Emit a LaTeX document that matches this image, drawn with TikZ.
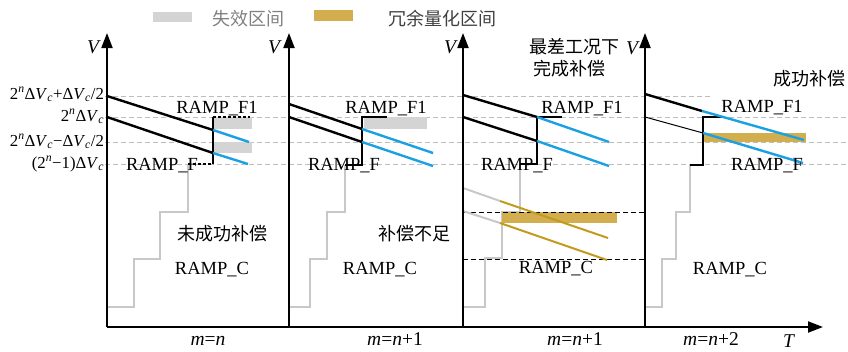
\documentclass[tikz,border=0pt]{standalone}
\usepackage{fontspec}
\setmainfont{Liberation Serif}
\newfontfamily\cjk{Noto Sans CJK SC}
\usetikzlibrary{arrows.meta}
\definecolor{bluec}{HTML}{1BA1E2}
\definecolor{goldl}{HTML}{C49A1C}
\definecolor{goldb}{HTML}{D2AE4E}
\definecolor{greyb}{HTML}{D4D4D4}
\definecolor{greys}{HTML}{C8C8C8}
\definecolor{greyd}{HTML}{BDBDBD}
\newcommand\mydv{Δ\textit{V}\textsubscript{\itshape c}}
\newcommand\mytn{2\textsuperscript{\itshape n}}
\tikzset{
  axisline/.style={line width=2pt,-{Triangle[length=15pt,width=11pt]}},
  ramp/.style={line width=2.4pt,black},
  thinramp/.style={line width=1pt,black},
  blueramp/.style={line width=2.4pt,bluec},
  greyramp/.style={line width=2pt,greys},
  goldramp/.style={line width=2pt,goldl},
  stepline/.style={line width=1.4pt,black},
  stair/.style={line width=1.4pt,greys},
  gdash/.style={greyd,line width=0.8pt,dash pattern=on 5pt off 3pt},
  kdash/.style={black,line width=0.9pt,dash pattern=on 5pt off 3pt},
  lbl/.style={font=\fontsize{18.5}{20}\selectfont,anchor=base},
  ylbl/.style={font=\fontsize{16.8}{18}\selectfont,anchor=base east},
  cn/.style={font=\fontsize{18}{20}\selectfont\cjk},
  mlbl/.style={font=\fontsize{19.5}{21}\selectfont,anchor=base},
}
\begin{document}
\begin{tikzpicture}[x=1pt,y=-1pt,every node/.style={inner sep=0pt,outer sep=0pt}]
\useasboundingbox (0,0) rectangle (848,351);

% legend
\fill[greyb] (153,12) rectangle (192,22);
\node[cn,anchor=west,text=black!50] (lg1) at (212,19) {失效区间};
\fill[goldb] (314,10) rectangle (353,21);
\node[cn,anchor=west,text=black!75] (lg2) at (388,19) {冗余量化区间};

% grey dashed reference lines
\draw[gdash] (105,96) -- (712,96);
\draw[gdash] (105,117) -- (848,117);
\draw[gdash] (105,142) -- (848,142);
\draw[gdash] (105,164) -- (848,164);

% y labels
\node[ylbl] (y1) at (104,99) {\mytn\mydv+\mydv/2};
\node[ylbl] (y2) at (104,121) {\mytn\mydv};
\node[ylbl] (y3) at (104,146) {\mytn\mydv−\mydv/2};
\node[ylbl] (y4) at (104,168) {(\mytn−1)\mydv};

% ---------- panel 1 ----------
\fill[greyb] (214,117) rectangle (252,129);
\fill[greyb] (214,142) rectangle (252,153);
\draw[stair] (188,164) -- (188,212) -- (160,212) -- (160,259) -- (134,259) -- (134,307) -- (107,307);
\draw[stepline] (213,117) -- (213,164);
\draw[stepline,dash pattern=on 3pt off 2pt] (213,117) -- (250,117);
\draw[stepline,dash pattern=on 3pt off 2pt] (188,164) -- (213,164);
\draw[ramp] (107,96) -- (213,130);
\draw[ramp] (107,117) -- (213,153);
\draw[blueramp] (213,130) -- (249,142);
\draw[blueramp] (213,153) -- (248,164);
\node[lbl] (f1a) at (217,113) {RAMP\_F1};
\node[lbl] (fa) at (162,170) {RAMP\_F};
\node[cn] (ta) at (222,234) {未成功补偿};
\node[lbl] (ca) at (212,274) {RAMP\_C};
\node[mlbl] (ma) at (208,345) {\textit{m}=\textit{n}};

% ---------- panel 2 ----------
\fill[greyb] (364,117) rectangle (427,129);
\draw[stair] (345,165) -- (345,212) -- (327,212) -- (327,259) -- (310,259) -- (310,307) -- (289,307);
\draw[stepline] (345,165) -- (362,165) -- (362,117) -- (387,117);
\draw[ramp] (289,104) -- (362,129);
\draw[ramp] (289,117) -- (362,142);
\draw[blueramp] (362,129) -- (433,153);
\draw[blueramp] (362,142) -- (433,166);
\node[lbl] (f1b) at (386,113) {RAMP\_F1};
\node[lbl] (fb) at (344,170) {RAMP\_F};
\node[cn] (tb) at (414,234) {补偿不足};
\node[lbl] (cb) at (380,274) {RAMP\_C};
\node[mlbl] (mb) at (395,345) {\textit{m}=\textit{n}+1};

% ---------- panel 3 ----------
\draw[stair] (520,164) -- (520,212) -- (502,212) -- (502,258) -- (485,258) -- (485,307) -- (463,307);
\fill[goldb] (502,212) rectangle (617,223);
\draw[kdash] (463,212) -- (645,212);
\draw[kdash] (463,259) -- (645,259);
\draw[greyramp] (463,188) -- (500,201);
\draw[greyramp] (463,211) -- (500,223);
\draw[goldramp] (500,201) -- (608,238);
\draw[goldramp] (500,223) -- (607,260);
\draw[stepline] (520,164) -- (537,164) -- (537,117) -- (562,117);
\draw[ramp] (463,95) -- (537,117);
\draw[ramp] (463,117) -- (537,141);
\draw[blueramp] (537,117) -- (609,142);
\draw[blueramp] (537,141) -- (609,166);
\node[cn] (tc1) at (574,47) {最差工况下};
\node[cn] (tc2) at (569,69) {完成补偿};
\node[lbl] (f1c) at (582,113) {RAMP\_F1};
\node[lbl] (fc) at (517,170) {RAMP\_F};
\node[lbl] (cc) at (556,273) {RAMP\_C};
\node[mlbl] (mc) at (575,345) {\textit{m}=\textit{n}+1};

% ---------- panel 4 ----------
\fill[goldb] (703,133) rectangle (806,142);
\draw[stair] (690,165) -- (690,212) -- (676,212) -- (676,259) -- (662,259) -- (662,307) -- (645,307);
\draw[stepline] (690,165) -- (703,165) -- (703,117) -- (722,117);
\draw[ramp] (645,94) -- (702,111);
\draw[thinramp] (645,117) -- (703,133);
\draw[blueramp] (702,111) -- (804,140);
\draw[blueramp] (703,133) -- (803,163);
\node[cn] (td) at (809,79) {成功补偿};
\node[lbl] (f1d) at (762,112) {RAMP\_F1};
\node[lbl] (fd) at (767,170) {RAMP\_F};
\node[lbl] (cd) at (730,274) {RAMP\_C};
\node[mlbl] (md) at (711,345) {\textit{m}=\textit{n}+2};
\node[mlbl] (tt) at (789,347) {\textit{T}};

% axes
\draw[axisline] (107,327) -- (823,327);
\draw[axisline] (107,327) -- (107,33);
\draw[axisline] (289,327) -- (289,33);
\draw[axisline] (463,327) -- (463,33);
\draw[axisline] (645,327) -- (645,33);
\node[mlbl,anchor=center] (v1) at (94,47) {\textit{V}};
\node[mlbl,anchor=center] (v2) at (275,47) {\textit{V}};
\node[mlbl,anchor=center] (v3) at (451,47) {\textit{V}};
\node[mlbl,anchor=center] (v4) at (633,48) {\textit{V}};
\end{tikzpicture}
\end{document}
